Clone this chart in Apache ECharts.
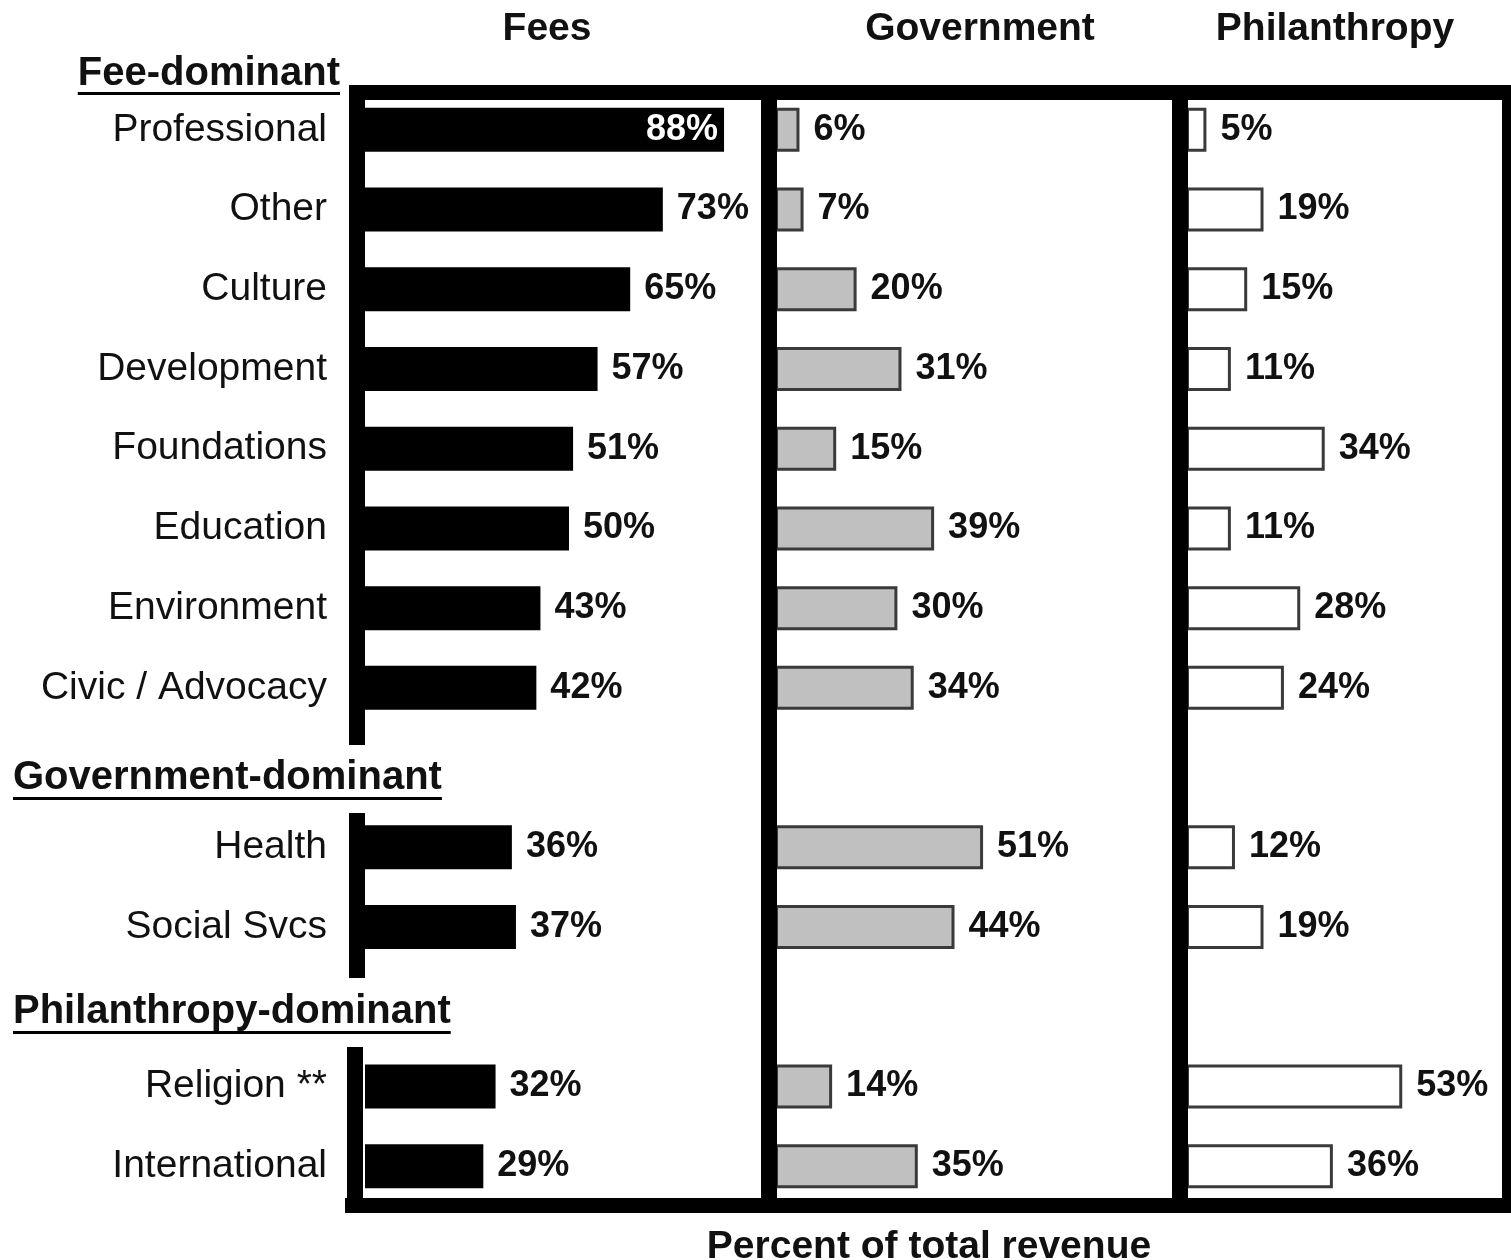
<!DOCTYPE html>
<html>
<head>
<meta charset="utf-8">
<script src="https://cdn.jsdelivr.net/npm/echarts@6/dist/echarts.min.js"></script>
<style>
  html, body { margin: 0; padding: 0; background: #fff; }
  #revChart { width: 1511px; height: 1260px; }
</style>
</head>
<body>
<div id="revChart"></div>
<script>
// rows, blank entries are the gaps where the group headers sit
var categories = ['Professional', 'Other', 'Culture', 'Development', 'Foundations', 'Education',
    'Environment', 'Civic / Advocacy', '', 'Health', 'Social Svcs', '', 'Religion **', 'International'];
var fees = [88, 73, 65, 57, 51, 50, 43, 42, null, 36, 37, null, 32, 29];
var government = [6, 7, 20, 31, 15, 39, 30, 34, null, 51, 44, null, 14, 35];
var philanthropy = [5, 19, 15, 11, 34, 11, 28, 24, null, 12, 19, null, 53, 36];
var panelTitles = ['Fees', 'Government', 'Philanthropy'];
var groupHeaders = ['Fee-dominant', 'Government-dominant', 'Philanthropy-dominant'];
var axisTitle = 'Percent of total revenue';

document.addEventListener('DOMContentLoaded', function () {
    var chartDom = document.getElementById('revChart');
    var myChart = echarts.init(chartDom);
    var font = '"Liberation Sans", Arial, sans-serif';

    var pxPerPct = 4.08;
    var gridTop = 90, gridH = 1116;
    var panels = [
        { left: 365, max: 97 },
        { left: 775, max: 97 },
        { left: 1186, max: 77.5 }
    ];

    var ctx = document.createElement('canvas').getContext('2d');
    function textWidth(txt, f) { ctx.font = f; return ctx.measureText(txt).width; }

    var labelStyle = {
        show: true, position: 'right', distance: 14,
        formatter: '{c}%', fontFamily: font, fontWeight: 'bold', fontSize: 36, color: '#111'
    };

    function barSeries(idx, data, itemStyle) {
        return {
            type: 'bar', xAxisIndex: idx, yAxisIndex: idx,
            barWidth: 44,
            itemStyle: itemStyle,
            label: labelStyle,
            silent: true,
            data: data.map(function (v) {
                // label won't fit past the bar, put it inside in white
                if (v != null && v * pxPerPct + 90 > panels[idx].max * pxPerPct) {
                    return { value: v, label: { position: 'insideRight', color: '#fff', distance: 6 } };
                }
                return v;
            })
        };
    }

    var grids = [], xAxes = [], yAxes = [];
    panels.forEach(function (p, i) {
        grids.push({ left: p.left, top: gridTop, width: p.max * pxPerPct, height: gridH });
        xAxes.push({ type: 'value', gridIndex: i, min: 0, max: p.max, show: false });
        yAxes.push({
            type: 'category', gridIndex: i, data: categories, inverse: true,
            axisLine: { show: false }, axisTick: { show: false },
            axisLabel: {
                show: i === 0, margin: 38, fontFamily: font, fontSize: 39, color: '#111'
            }
        });
    });

    // frame: thick black borders, left one broken at the group headers
    var frame = [
        [349, 85, 1162, 15], [1502, 85, 9, 1128], [345, 1198, 1166, 15],
        [761, 85, 16, 1128], [1172, 85, 16, 1128],
        [349, 85, 16, 660], [349, 813, 16, 165], [347, 1047, 16, 166]
    ];
    var graphic = frame.map(function (r) {
        return { type: 'rect', shape: { x: r[0], y: r[1], width: r[2], height: r[3] },
                 style: { fill: '#000' }, z: 100, silent: true };
    });

    var titleX = [547, 980, 1335];
    panelTitles.forEach(function (t, i) {
        graphic.push({ type: 'text', x: titleX[i], y: 29, z: 100,
            style: { text: t, align: 'center', verticalAlign: 'middle', fill: '#111',
                     font: 'bold 39px ' + font } });
    });

    var headerFont = 'bold 40px ' + font;
    var headers = [
        { x: 340, y: 74, align: 'right', line: 92 },
        { x: 13, y: 778, align: 'left', line: 797 },
        { x: 13, y: 1012, align: 'left', line: 1031 }
    ];
    headers.forEach(function (h, i) {
        var w = textWidth(groupHeaders[i], headerFont);
        var x0 = h.align === 'right' ? h.x - w : h.x;
        graphic.push({ type: 'text', x: h.x, y: h.y, z: 100,
            style: { text: groupHeaders[i], align: h.align, verticalAlign: 'middle',
                     fill: '#111', font: headerFont } });
        graphic.push({ type: 'rect', shape: { x: x0, y: h.line, width: w, height: 3 },
            style: { fill: '#000' }, z: 100 });
    });

    graphic.push({ type: 'text', x: 929, y: 1247, z: 100,
        style: { text: axisTitle, align: 'center', verticalAlign: 'middle', fill: '#111',
                 font: 'bold 39px ' + font } });

    var option = {
        backgroundColor: '#fff',
        animation: false,
        grid: grids,
        xAxis: xAxes,
        yAxis: yAxes,
        graphic: graphic,
        series: [
            barSeries(0, fees, { color: '#000' }),
            barSeries(1, government, { color: '#c0c0c0', borderColor: '#3a3a3a', borderWidth: 3 }),
            barSeries(2, philanthropy, { color: '#fff', borderColor: '#3a3a3a', borderWidth: 3 })
        ]
    };

    option && myChart.setOption(option);
});
</script>
</body>
</html>
